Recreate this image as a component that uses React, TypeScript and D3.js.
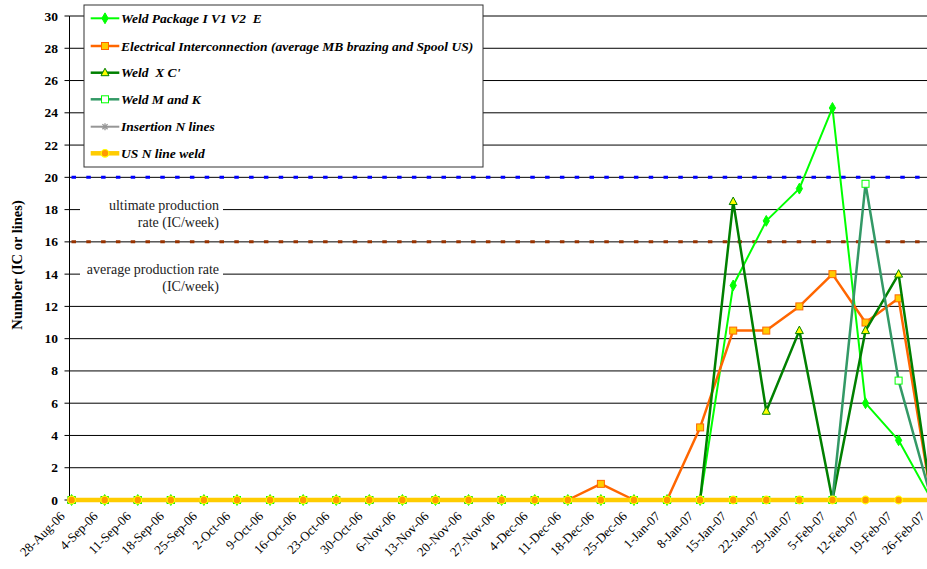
import React from 'react';
import * as d3 from 'd3';

const categories = [
  '28-Aug-06', '4-Sep-06', '11-Sep-06', '18-Sep-06', '25-Sep-06', '2-Oct-06', '9-Oct-06',
  '16-Oct-06', '23-Oct-06', '30-Oct-06', '6-Nov-06', '13-Nov-06', '20-Nov-06', '27-Nov-06',
  '4-Dec-06', '11-Dec-06', '18-Dec-06', '25-Dec-06', '1-Jan-07', '8-Jan-07', '15-Jan-07',
  '22-Jan-07', '29-Jan-07', '5-Feb-07', '12-Feb-07', '19-Feb-07', '26-Feb-07',
];

const weldPackage = [0, 0, 0, 0, 0, 0, 0, 0, 0, 0, 0, 0, 0, 0, 0, 0, 0, 0, 0, 0, 13.3, 17.3, 19.3, 24.3, 6.0, 3.7, 0];
const electrical = [0, 0, 0, 0, 0, 0, 0, 0, 0, 0, 0, 0, 0, 0, 0, 0, 1, 0, 0, 4.5, 10.5, 10.5, 12, 14, 11, 12.5, 0];
const weldXC = [0, 0, 0, 0, 0, 0, 0, 0, 0, 0, 0, 0, 0, 0, 0, 0, 0, 0, 0, 0, 18.5, 5.5, 10.5, 0, 10.5, 14, 0];
const weldMK = [0, 0, 0, 0, 0, 0, 0, 0, 0, 0, 0, 0, 0, 0, 0, 0, 0, 0, 0, 0, 0, 0, 0, 0, 19.6, 7.4, 0];
const insertion = [0, 0, 0, 0, 0, 0, 0, 0, 0, 0, 0, 0, 0, 0, 0, 0, 0, 0, 0, 0, 0, 0, 0, 0, 0, 0, 0];
const usNLine = [0, 0, 0, 0, 0, 0, 0, 0, 0, 0, 0, 0, 0, 0, 0, 0, 0, 0, 0, 0, 0, 0, 0, 0, 0, 0, 0];

const seriesNames = [
  'Weld Package I V1 V2  E',
  'Electrical Interconnection (average MB brazing and Spool US)',
  "Weld  X C'",
  'Weld M and K',
  'Insertion N lines',
  'US N line weld',
];

const yTicks = [0, 2, 4, 6, 8, 10, 12, 14, 16, 18, 20, 22, 24, 26, 28, 30];
const ultimateRate = 20;
const averageRate = 16;

type Marker = 'diamond' | 'square' | 'triangle' | 'hollowSquare' | 'star' | 'circle';
interface SeriesStyle { color: string; width: number; marker: Marker; fill: string; stroke: string; }

const styles: SeriesStyle[] = [
  { color: '#00ff00', width: 2, marker: 'diamond', fill: '#00ff00', stroke: '#00ff00' },
  { color: '#ff6600', width: 2.5, marker: 'square', fill: '#ffcc00', stroke: '#ff6600' },
  { color: '#008000', width: 2.5, marker: 'triangle', fill: '#ffff00', stroke: '#008000' },
  { color: '#339966', width: 2.5, marker: 'hollowSquare', fill: '#ffffff', stroke: '#00ff00' },
  { color: '#969696', width: 2, marker: 'star', fill: '#969696', stroke: '#969696' },
  { color: '#ffcc00', width: 4.5, marker: 'circle', fill: '#ff9900', stroke: '#ffff00' },
];

const seriesData = [weldPackage, electrical, weldXC, weldMK, insertion, usNLine];

const W = 927;
const H = 569;
const FONT = '"Liberation Serif", "Times New Roman", serif';

function MarkerShape({ m, x, y, s }: { m: Marker; x: number; y: number; s: SeriesStyle }) {
  switch (m) {
    case 'diamond':
      return <path d={d3.symbol(d3.symbolDiamond, 34)() || ''} transform={`translate(${x},${y})`} fill={s.fill} stroke={s.stroke} strokeWidth={1} />;
    case 'square':
      return <rect x={x - 3.5} y={y - 3.5} width={7} height={7} fill={s.fill} stroke={s.stroke} strokeWidth={1} />;
    case 'hollowSquare':
      return <rect x={x - 3.5} y={y - 3.5} width={7} height={7} fill={s.fill} stroke={s.stroke} strokeWidth={1} />;
    case 'triangle':
      return <path d={`M${x},${y - 4.5}L${x + 4},${y + 3}L${x - 4},${y + 3}Z`} fill={s.fill} stroke={s.stroke} strokeWidth={1} />;
    case 'star':
      return (
        <g stroke={s.stroke} strokeWidth={1.3}>
          <line x1={x - 3.5} y1={y} x2={x + 3.5} y2={y} />
          <line x1={x} y1={y - 3.5} x2={x} y2={y + 3.5} />
          <line x1={x - 2.6} y1={y - 2.6} x2={x + 2.6} y2={y + 2.6} />
          <line x1={x - 2.6} y1={y + 2.6} x2={x + 2.6} y2={y - 2.6} />
        </g>
      );
    case 'circle':
      return <circle cx={x} cy={y} r={3.8} fill={s.fill} stroke={s.stroke} strokeWidth={1.2} />;
  }
}

export default function App() {
  const x = d3.scalePoint<string>().domain(categories).range([71.6, 71.6 + 33.08 * 26]);
  const y = d3.scaleLinear().domain([0, 30]).range([500, 16]);
  const axisX = 69.5;

  const line = d3
    .line<number>()
    .x((_, i) => x(categories[i]) as number)
    .y((d) => y(d));

  const legendX = 84;
  const legendY = 5;
  const legendRows = [18.3, 46, 72.7, 99.3, 126.7, 153.3];

  return (
    <svg width={W} height={H} style={{ position: 'absolute', left: 0, top: 0, background: '#fff', fontFamily: FONT }}>
      <rect x={0} y={0} width={W} height={H} fill="#fff" />
      {/* gridlines */}
      {yTicks.map((t) => (
        <line key={'g' + t} x1={axisX} x2={W} y1={y(t)} y2={y(t)} stroke="#000" strokeWidth={1} />
      ))}
      {/* reference dotted lines */}
      <line x1={axisX + 2} x2={W} y1={y(ultimateRate)} y2={y(ultimateRate)} stroke="#0000ff" strokeWidth={3} strokeDasharray="4.5 10.3" />
      <line x1={axisX + 2} x2={W} y1={y(averageRate)} y2={y(averageRate)} stroke="#993300" strokeWidth={3} strokeDasharray="4.5 10.3" />

      {/* annotations */}
      <rect x={80} y={197} width={143} height={33} fill="#fff" />
      <rect x={80} y={259} width={143} height={34} fill="#fff" />
      <g fill="#222" textAnchor="end" style={{ fontFamily: FONT, fontSize: '14px' }}>
        <text x={219} y={209.5}>ultimate production</text>
        <text x={219} y={227}>rate (IC/week)</text>
        <text x={219} y={273.5}>average production rate</text>
        <text x={219} y={290.5}>(IC/week)</text>
      </g>

      {/* y axis */}
      <line x1={axisX} x2={axisX} y1={y(30)} y2={y(0)} stroke="#000" strokeWidth={1} />
      {yTicks.map((t) => (
        <g key={'t' + t}>
          <line x1={axisX - 5} x2={axisX} y1={y(t)} y2={y(t)} stroke="#000" strokeWidth={1} />
          <text x={58} y={y(t) + 4.5} textAnchor="end" fill="#000" style={{ fontFamily: FONT, fontSize: '13.5px', fontWeight: 'bold' }}>
            {t}
          </text>
        </g>
      ))}
      <text transform={`translate(22,${265}) rotate(-90)`} textAnchor="middle" fill="#000" style={{ fontFamily: FONT, fontSize: '14.5px', fontWeight: 'bold' }}>
        Number (IC or lines)
      </text>

      {/* x labels */}
      {categories.map((c) => {
        const cx = x(c) as number;
        return (
          <text key={c} transform={`translate(${cx - 6},${517}) rotate(-45)`} textAnchor="end" fill="#000" style={{ fontFamily: FONT, fontSize: '13px' }}>
            {c}
          </text>
        );
      })}

      {/* series lines and markers */}
      {seriesData.map((data, si) => {
        const s = styles[si];
        return (
          <g key={'s' + si}>
            <path d={line(data) || ''} fill="none" stroke={s.color} strokeWidth={s.width} strokeLinejoin="round" />
            {data.map((d, i) => (
              <MarkerShape key={i} m={s.marker} x={x(categories[i]) as number} y={y(d)} s={s} />
            ))}
          </g>
        );
      })}

      {/* legend */}
      <rect x={legendX} y={legendY} width={399} height={162} fill="#fff" stroke="#333" strokeWidth={1} />
      {seriesNames.map((n, i) => {
        const s = styles[i];
        const ly = legendRows[i];
        return (
          <g key={'l' + i}>
            <line x1={90.7} x2={119.3} y1={ly} y2={ly} stroke={s.color} strokeWidth={s.width} />
            <MarkerShape m={s.marker} x={105} y={ly} s={s} />
            <text x={121} y={ly + 4.5} fill="#000" style={{ whiteSpace: 'pre', fontFamily: FONT, fontSize: '13.5px', fontWeight: 'bold', fontStyle: 'italic' }}>
              {n}
            </text>
          </g>
        );
      })}
    </svg>
  );
}
